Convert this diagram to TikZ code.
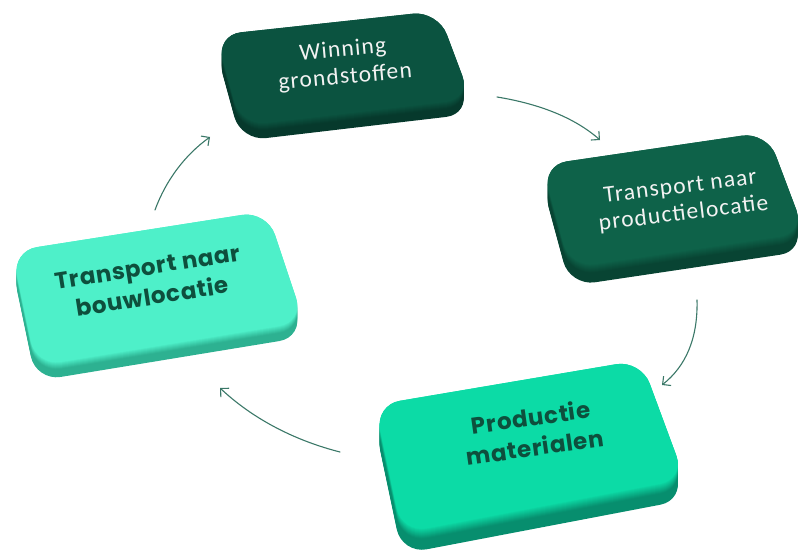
\documentclass[tikz,border=0pt]{standalone}
\usepackage{fontspec}
\setmainfont{Carlito}
\newfontfamily\lightfont{Carlito}[LetterSpace=5]
\newfontfamily\geofont{Poppins}[LetterSpace=3]
\usetikzlibrary{arrows.meta}
\definecolor{arrowc}{HTML}{3B7868}
\definecolor{topA}{HTML}{0B5340}
\definecolor{sideA}{HTML}{06392C}
\definecolor{topB}{HTML}{0E6249}
\definecolor{sideB}{HTML}{084433}
\definecolor{topC}{HTML}{4EF0C9}
\definecolor{sideC}{HTML}{2DB191}
\definecolor{topD}{HTML}{0CDBA6}
\definecolor{sideD}{HTML}{078E6E}
\definecolor{darkt}{HTML}{0E4F3D}
\definecolor{lightt}{HTML}{F2F2F2}
\tikzset{
  face/.style={rounded corners=25pt},
  flow/.style={draw=arrowc, line width=1.1pt, line cap=round,
    -{Straight Barb[length=6pt,width=12pt,line width=1.1pt]}},
  lighttext/.style={text=lightt, font=\lightfont\fontsize{23.5}{27}\selectfont, align=center, inner sep=0pt},
  darktext/.style={text=darkt, font=\geofont\bfseries\fontsize{23}{30}\selectfont, align=center, inner sep=0pt},
}
\newcommand\slab[7]{%
  \foreach \dd in {0,...,#5} {%
    \pgfmathsetmacro\sh{#5-\dd}%
    \pgfmathsetmacro\pc{min(100,100*\sh/(0.5*#5))}%
    \fill[color=#7!\pc!#6, face, shift={(0,\sh)}] #1 -- #2 -- #3 -- #4 -- cycle;
  }%
  \fill[#6, face] #1 -- #2 -- #3 -- #4 -- cycle;
}
\begin{document}
\begin{tikzpicture}[x=1pt,y=-1pt]
\useasboundingbox (0,0) rectangle (802,556);
% boxes
\slab{(216,35)}{(438,11)}{(471,99)}{(241,126)}{15}{topA}{sideA}
\slab{(542,165)}{(767,132)}{(805,233)}{(570,268)}{18}{topB}{sideB}
\slab{(12,251)}{(267,211)}{(304,322)}{(36,366)}{15}{topC}{sideC}
\slab{(375,405)}{(641,360)}{(685,479)}{(402,533)}{21}{topD}{sideD}
% texts
\node[lighttext, rotate=5] (t1) at (344,64) {Winning\\grondstoffen};
\node[lighttext, rotate=7] (t2) at (682,201) {Transport naar\\productielocatie};
\node[darktext, rotate=9] (t3) at (150,282) {Transport naar\\bouwlocatie};
\node[darktext, rotate=8] (t4) at (533,432) {Productie\\materialen};
% arrows
\coordinate (a1s) at (497,97);  \coordinate (a1e) at (600,140);
\coordinate (a2s) at (697,300); \coordinate (a2e) at (662,385);
\coordinate (a3s) at (340,452); \coordinate (a3e) at (220,388);
\coordinate (a4s) at (155,210); \coordinate (a4e) at (210,137);
\draw[flow] (a1s) .. controls (540,104) and (575,118) .. (a1e);
\draw[flow] (a2s) .. controls (698,338) and (686,366) .. (a2e);
\draw[flow] (a3s) .. controls (293,440) and (252,418) .. (a3e);
\draw[flow] (a4s) .. controls (166,180) and (185,155) .. (a4e);
\end{tikzpicture}
\end{document}
